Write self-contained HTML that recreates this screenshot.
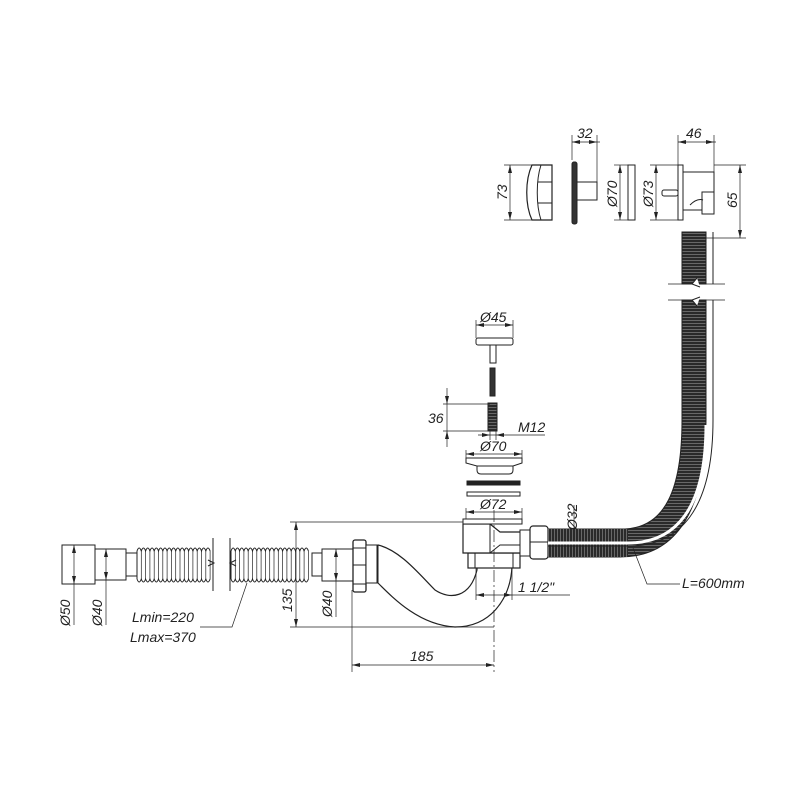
<!DOCTYPE html>
<html><head><meta charset="utf-8">
<style>
html,body{margin:0;padding:0;background:#fff;}
svg{display:block;}
text{font-family:"Liberation Sans",sans-serif;font-style:italic;font-size:14px;fill:#222;}
</style></head>
<body>
<svg id="s" width="800" height="800" viewBox="0 0 800 800" xmlns="http://www.w3.org/2000/svg">
<defs>
<pattern id="hs" width="4" height="3" patternUnits="userSpaceOnUse">
<rect width="4" height="3" fill="#2a2a2a"/><rect y="2" width="4" height="0.8" fill="#777"/>
</pattern>
<pattern id="vs" width="3" height="4" patternUnits="userSpaceOnUse">
<rect width="3" height="4" fill="#2a2a2a"/><rect x="2" width="0.8" height="4" fill="#777"/>
</pattern>
</defs>
<g stroke="#222" stroke-width="1" fill="none">
<!-- LEFT HOSE ASSEMBLY -->
<rect x="62" y="545" width="33" height="39" fill="#fff"/>
<rect x="95" y="549" width="31" height="31" fill="#fff"/>
<rect x="126" y="553" width="11" height="23" fill="#fff"/>
<g id="rib1"></g>
<line x1="213" y1="538" x2="213" y2="591"/>
<line x1="230" y1="538" x2="230" y2="591"/>
<path d="M208 560 l6 3 l-6 3"/>
<path d="M236 560 l-6 3 l6 3"/>
<rect x="312" y="553" width="10" height="23" fill="#fff"/>
<rect x="322" y="549" width="31" height="32" fill="#fff"/>
<!-- nut -->
<rect x="353" y="540" width="13" height="52" rx="2" fill="#fff" stroke-width="1.3"/>
<line x1="353" y1="548" x2="366" y2="548"/><line x1="353" y1="565" x2="366" y2="565"/><line x1="353" y1="584" x2="366" y2="584"/>
<rect x="366" y="545" width="12" height="38" fill="#fff"/>
<!-- S-trap -->
<path d="M378 545 C 400 550, 420 575, 435 590 C 450 600, 470 598, 477 570 L 477 567" stroke-width="1.2"/>
<path d="M378 583 C 395 600, 420 625, 455 627 C 490 627, 510 600, 512 567" stroke-width="1.2"/>
<line x1="377" y1="545" x2="377" y2="583"/>
<!-- trap body -->
<rect x="468" y="553" width="52" height="15" fill="#fff" stroke-width="1.2"/>
<line x1="475" y1="553" x2="475" y2="568"/><line x1="513" y1="553" x2="513" y2="568"/>
<path d="M463 524 H490 L500 532 L522 532 V553 H463 Z" fill="#fff" stroke-width="1.2"/>
<path d="M490 524 V553 M490 553 L500 545 H548" />
<rect x="463" y="519" width="59" height="5" fill="#fff"/>
<rect x="520" y="530" width="10" height="26" fill="#fff"/>
<rect x="530" y="526" width="18" height="33" rx="3" fill="#fff" stroke-width="1.2"/>
<line x1="530" y1="542" x2="548" y2="542"/>
<!-- overflow hose -->
<path d="M548 529 H625 C 665 527, 682 490, 682 420 V300 H706 V420 C 706 505, 680 557, 620 557 H548 Z" fill="url(#hs)" stroke="#222"/>
<rect x="548" y="529" width="80" height="28" fill="url(#vs)" stroke="none"/>
<path d="M548 543 H628 C 675 543, 706 510, 706 425" stroke="#fff" stroke-width="3"/>
<path d="M548 546 H628 C 680 546, 713 510, 713 420 V375" stroke="#222"/>
<line x1="713" y1="375" x2="713" y2="300"/>
<rect x="682" y="232" width="24" height="52" fill="url(#hs)"/>
<line x1="713" y1="232" x2="713" y2="284"/>
<line x1="668" y1="284" x2="725" y2="284" stroke-width=".8"/>
<line x1="668" y1="300" x2="725" y2="300" stroke-width=".8"/>
<path d="M697 278 l-5 6 l8 3" fill="#fff"/>
<path d="M697 306 l-5 -6 l8 -3" fill="#fff"/>
<!-- stack parts -->
<rect x="467" y="481" width="53" height="4" fill="#222"/>
<rect x="467" y="492" width="53" height="4" fill="#fff"/>
<path d="M466 458 H522 V463 L513 466 V470 Q513 474 509 474 H481 Q477 474 477 470 V466 L466 463 Z" fill="#fff"/>
<line x1="477" y1="466" x2="513" y2="466"/>
<rect x="488" y="403" width="9" height="28" fill="url(#hs)"/>
<rect x="490" y="368" width="5" height="28" fill="#333"/>
<rect x="476" y="338" width="37" height="7" rx="2" fill="#fff"/>
<rect x="490" y="345" width="6" height="18" fill="#fff"/>
<!-- TOP PARTS -->
<path d="M532 165 H552 V220 H532 C 525 205, 525 180, 532 165 Z" fill="#fff" stroke-width="1.2"/>
<line x1="538" y1="182" x2="552" y2="182"/><line x1="538" y1="203" x2="552" y2="203"/>
<path d="M541 165 C 536 180,536 205,541 220"/>
<rect x="572" y="162" width="5" height="62" rx="2" fill="#333"/>
<rect x="577" y="182" width="20" height="18" fill="#fff"/>
<rect x="628" y="165" width="7" height="55" fill="#fff"/>
<rect x="678" y="165" width="5" height="55" fill="#fff"/>
<rect x="683" y="172" width="31" height="38" fill="#fff"/>
<rect x="662" y="190" width="16" height="6" rx="2" fill="#fff"/>
<rect x="702" y="192" width="12" height="22" fill="#fff"/>
<path d="M690 205 Q697 198 703 200"/>
</g>
<!-- DIMENSION LINES -->
<g stroke="#222" stroke-width=".7" fill="none">
<line x1="290" y1="522" x2="463" y2="522"/><line x1="290" y1="627" x2="494" y2="627"/>
<line x1="296" y1="522" x2="296" y2="627"/>
<line x1="336" y1="549" x2="336" y2="617"/>
<line x1="74" y1="545" x2="74" y2="625"/><line x1="106" y1="549" x2="106" y2="625"/>
<line x1="352" y1="590" x2="352" y2="672"/>
<line x1="494" y1="510" x2="494" y2="672" stroke-dasharray="12 3 2 3"/>
<line x1="352" y1="665" x2="494" y2="665"/>
<line x1="476" y1="568" x2="476" y2="600"/><line x1="512" y1="568" x2="512" y2="600"/>
<line x1="476" y1="595" x2="570" y2="595"/>
<line x1="466" y1="512" x2="522" y2="512"/><line x1="466" y1="508" x2="466" y2="519"/><line x1="522" y1="508" x2="522" y2="519"/>
<line x1="466" y1="454" x2="522" y2="454"/><line x1="466" y1="450" x2="466" y2="458"/><line x1="522" y1="450" x2="522" y2="458"/>
<line x1="476" y1="325" x2="513" y2="325"/><line x1="476" y1="320" x2="476" y2="338"/><line x1="513" y1="320" x2="513" y2="338"/>
<line x1="443" y1="404" x2="490" y2="404"/><line x1="443" y1="431" x2="490" y2="431"/>
<line x1="447" y1="388" x2="447" y2="447"/>
<line x1="478" y1="435" x2="545" y2="435"/><line x1="490" y1="431" x2="490" y2="440"/><line x1="496" y1="431" x2="496" y2="440"/>
<line x1="574" y1="505" x2="574" y2="529"/>
<path d="M633 548 L647 584 H680"/>
<path d="M247 583 L232 627 H200"/>
<line x1="504" y1="165" x2="532" y2="165"/><line x1="504" y1="220" x2="532" y2="220"/><line x1="510" y1="165" x2="510" y2="220"/>
<line x1="572" y1="135" x2="572" y2="160"/><line x1="597" y1="135" x2="597" y2="182"/><line x1="572" y1="142" x2="600" y2="142"/>
<line x1="614" y1="165" x2="628" y2="165"/><line x1="614" y1="220" x2="628" y2="220"/><line x1="620" y1="165" x2="620" y2="220"/>
<line x1="650" y1="165" x2="678" y2="165"/><line x1="650" y1="220" x2="678" y2="220"/><line x1="656" y1="165" x2="656" y2="220"/>
<line x1="678" y1="135" x2="678" y2="165"/><line x1="714" y1="135" x2="714" y2="172"/><line x1="678" y1="142" x2="716" y2="142"/>
<line x1="714" y1="165" x2="746" y2="165"/><line x1="706" y1="238" x2="746" y2="238"/><line x1="740" y1="165" x2="740" y2="238"/>
</g>
<g fill="#222">
<path d="M296 522 l-2 8 h4z M296 627 l-2 -8 h4z M336 549 l-2 8 h4z M336 581 l-2 -8 h4z"/>
<path d="M74 545 l-2 8 h4z M74 584 l-2 -8 h4z M106 549 l-2 8 h4z M106 580 l-2 -8 h4z"/>
<path d="M352 665 l8 -2 v4z M494 665 l-8 -2 v4z M476 595 l8 -2 v4z M512 595 l-8 -2 v4z"/>
<path d="M466 512 l8 -2 v4z M522 512 l-8 -2 v4z M466 454 l8 -2 v4z M522 454 l-8 -2 v4z M476 325 l8 -2 v4z M513 325 l-8 -2 v4z"/>
<path d="M447 404 l-2 -8 h4z M447 431 l-2 8 h4z M490 435 l-8 -2 v4z M496 435 l8 -2 v4z"/>
<path d="M510 165 l-2 8 h4z M510 220 l-2 -8 h4z M572 142 l8 -2 v4z M597 142 l-8 -2 v4z"/>
<path d="M620 165 l-2 8 h4z M620 220 l-2 -8 h4z M656 165 l-2 8 h4z M656 220 l-2 -8 h4z"/>
<path d="M678 142 l8 -2 v4z M714 142 l-8 -2 v4z M740 165 l-2 8 h4z M740 238 l-2 -8 h4z"/>
</g>
<g>
<text x="0" y="0" transform="translate(70,626) rotate(-90)">Ø50</text>
<text x="0" y="0" transform="translate(102,626) rotate(-90)">Ø40</text>
<text x="0" y="0" transform="translate(292,612) rotate(-90)">135</text>
<text x="0" y="0" transform="translate(332,617) rotate(-90)">Ø40</text>
<text x="132" y="622">Lmin=220</text>
<text x="130" y="642">Lmax=370</text>
<text x="410" y="661">185</text>
<text x="518" y="592">1 1/2"</text>
<text x="480" y="509">Ø72</text>
<text x="480" y="451">Ø70</text>
<text x="518" y="432">M12</text>
<text x="428" y="423">36</text>
<text x="480" y="322">Ø45</text>
<text x="0" y="0" transform="translate(577,530) rotate(-90)">Ø32</text>
<text x="682" y="588">L=600mm</text>
<text x="0" y="0" transform="translate(507,200) rotate(-90)">73</text>
<text x="577" y="138">32</text>
<text x="0" y="0" transform="translate(617,207) rotate(-90)">Ø70</text>
<text x="0" y="0" transform="translate(653,207) rotate(-90)">Ø73</text>
<text x="686" y="138">46</text>
<text x="0" y="0" transform="translate(737,208) rotate(-90)">65</text>
</g>
</svg>
<script>
(function(){
var g=document.getElementById('rib1'),h='';
function hose(x0,x1){
 var step=4.3,n=Math.floor((x1-x0)/step),top='M'+x0+' 551',bot='M'+x0+' 579';
 for(var i=0;i<n;i++){var a=x0+i*step;
  top+=' Q'+(a+step/2)+' 545 '+(a+step)+' 551';
  bot+=' Q'+(a+step/2)+' 585 '+(a+step)+' 579';
  h+='<line x1="'+(a+step)+'" y1="551" x2="'+(a+step)+'" y2="579" stroke-width=".7"/>';}
 h+='<path d="'+top+'"/><path d="'+bot+'"/>';
 h+='<line x1="'+x0+'" y1="551" x2="'+x0+'" y2="579"/>';
}
hose(137,213);hose(231,312);
g.innerHTML=h;
})();
</script>
</body></html>
